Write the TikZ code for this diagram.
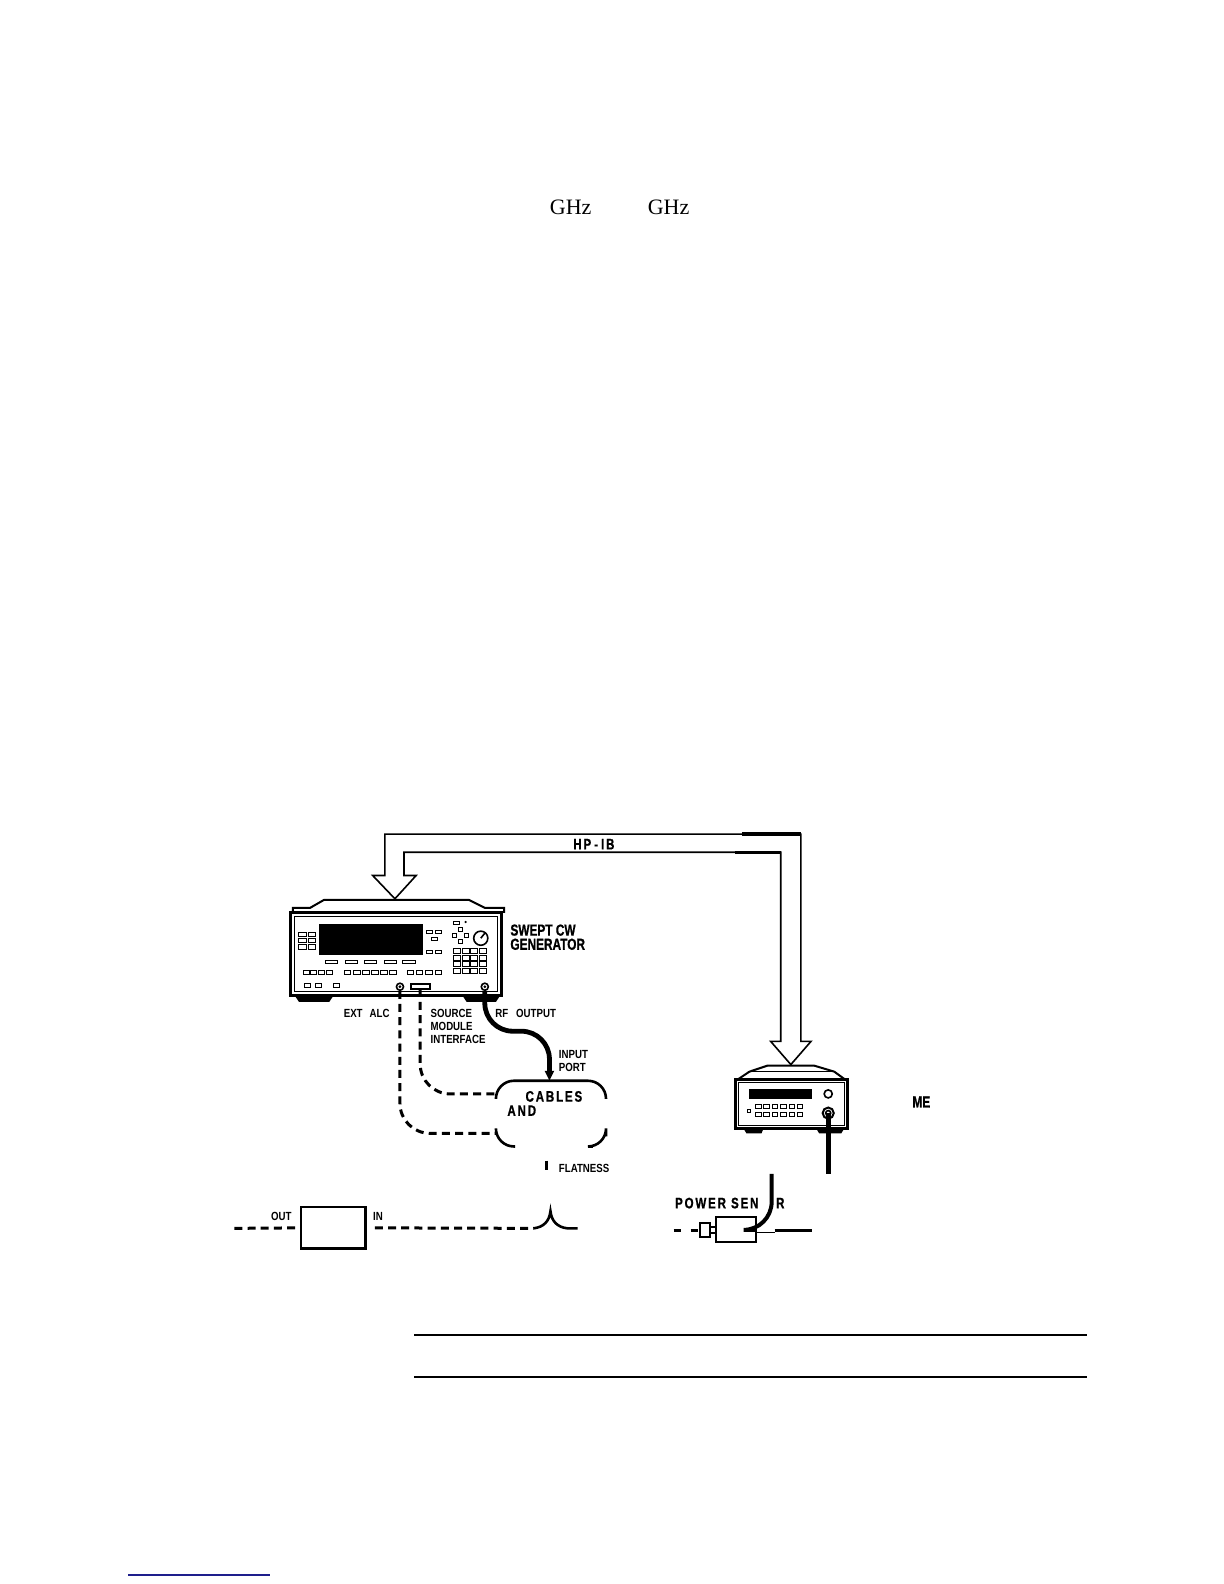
\documentclass[tikz,border=0pt]{standalone}
\usepackage{fontspec}
\setmainfont{Liberation Serif}
\newfontfamily\plotfont[FakeStretch=0.82]{Liberation Sans}
\newfontfamily\plotbig[FakeStretch=0.74,FakeBold=0.8]{Liberation Sans}
\newfontfamily\plotwide[FakeStretch=0.76,FakeBold=0.8,LetterSpace=12]{Liberation Sans}
\usetikzlibrary{arrows.meta}
\definecolor{linkblue}{RGB}{30,30,140}

\tikzstyle{big}=[font=\plotbig\bfseries\fontsize{8}{9}\selectfont,inner sep=0pt,anchor=west]
\tikzstyle{bigw}=[font=\plotwide\bfseries\fontsize{7.6}{8.5}\selectfont,inner sep=0pt,anchor=west]
\tikzstyle{small}=[font=\plotfont\bfseries\fontsize{5.9}{6.5}\selectfont,inner sep=0pt,anchor=west]
\tikzstyle{key}=[draw,line width=0.5pt]
\tikzstyle{panel}=[draw,line width=1.5pt]
\tikzstyle{cable}=[line width=2.4pt]
\tikzstyle{dashcable}=[line width=1.5pt,dash pattern=on 4pt off 2.6pt]
\tikzstyle{boxline}=[line width=1.3pt]
\tikzstyle{bus}=[line width=0.8pt,line join=miter]
\tikzstyle{attbox}=[draw,line width=1.2pt,minimum width=32.3pt,minimum height=20.7pt,inner sep=0pt]
\tikzstyle{sensbox}=[draw,line width=1pt,minimum width=19.7pt,minimum height=12.6pt,inner sep=0pt]

\begin{document}
\begin{tikzpicture}[x=0.505pt,y=-0.5055pt]
\useasboundingbox (0pt,0pt) rectangle (612pt,-792pt);
%\draw[help lines,step=50] (0,0) grid (1212,1567);
\node[font=\fontsize{11}{13}\selectfont,inner sep=0pt] (ghza) at (565,205) {GHz};
\node[font=\fontsize{11}{13}\selectfont,inner sep=0pt] (ghzb) at (662,205) {GHz};

% swept cw generator
\draw[line width=1pt] (290,903) -- (290,898) -- (307,898) -- (321,890) -- (464,890) -- (480,898) -- (499,898) -- (499,903);
\fill (292,985) -- (330,985) -- (326,991) -- (296,991) -- cycle;
\fill (458,985) -- (495,985) -- (491,991) -- (462,991) -- cycle;
\draw[panel] (288,903) rectangle (497,985);
\draw[line width=0.5pt] (292,907) rectangle (493,981);
\fill (316,914) rectangle (419,945);
\foreach \y in {922.5,928.5,934.5} \foreach \x in {296,305} \draw[key] (\x,\y) rectangle +(7.5,4.2);
\foreach \x in {322,342,361,381,399} \draw[key] (\x,950.5) rectangle +(12,2.5);
\foreach \i in {0,...,3} \draw[key] ({300+7.6*\i},959.5) rectangle +(6,4.5);
\foreach \i in {0,...,5} \draw[key] ({341+9*\i},959.5) rectangle +(6.5,4.5);
\foreach \i in {0,...,3} \draw[key] ({403+9.3*\i},959.5) rectangle +(6.5,4.5);
\foreach \x in {301,312,330} \draw[key] (\x,973) rectangle +(6.5,4);
\foreach \x/\y in {422/920,431/920,427/927,422/940,431/940} \draw[key] (\x,\y) rectangle +(6,3.5);
\draw[key] (449,911) rectangle +(6,3);
\fill (461,912) circle (1.2);
\foreach \dx/\dy in {0/-6,-6/0,6/0,0/6} \draw[key] ({454+\dx},{923+\dy}) rectangle +(4,4);
\draw[line width=0.8pt] (476,928) circle (7);
\draw[line width=0.8pt] (476,928) -- +(4,-5);
\foreach \i in {0,...,3} \foreach \j in {0,...,3} \draw[key] ({449+8.5*\i},{938+6.7*\j}) rectangle +(7,5);
\draw[line width=0.8pt] (396,976) circle (3.5);
\fill (396,976) circle (1.5);
\draw[line width=0.8pt] (407,973) rectangle (426,978);
\draw[line width=0.8pt] (480,976) circle (3.5);
\fill (480,976) circle (1.5);
\node[big] (swept) at (505,920) {SWEPT CW};
\node[big] (generator) at (505,934) {GENERATOR};
\node[small] (extalc) at (340,1002) {EXT\hspace{3.5pt}ALC};
\node[small] (source) at (426,1002) {SOURCE};
\node[small] (module) at (426,1015) {MODULE};
\node[small] (interface) at (426,1028) {INTERFACE};
\node[small] (rfout) at (490,1002) {RF\hspace{4pt}OUTPUT};

% cables and adapters
\coordinate (alc) at (396,980);
\coordinate (smi) at (416,978);
\coordinate (rf) at (480,980);
\coordinate (boxa) at (491,1121);
\coordinate (boxb) at (491,1082);
\coordinate (boxin) at (544,1069);
\draw[dashcable,rounded corners=15] (alc) |- (boxa);
\draw[dashcable,rounded corners=15] (smi) |- (boxb);
\draw[cable,rounded corners=14,-{Triangle[length=5pt,width=4.5pt]}] (rf) -- (480,1020) -- (544,1020) -- (boxin);
\draw[boxline,rounded corners=9] (491,1086) |- (600,1069) -- (600,1086);
\draw[boxline,rounded corners=9] (491,1117) |- (510,1134);
\draw[boxline,rounded corners=9] (600,1124) |- (587,1134);
\node[small] (input) at (553,1043) {INPUT};
\node[small] (port) at (553,1056) {PORT};
\node[bigw] (cables) at (520,1084.5) {CABLES};
\node[bigw] (and) at (502,1098.5) {AND};
\draw[line width=1.2pt] (541,1148) -- (541,1157);
\node[small] (flatness) at (553,1156) {FLATNESS};

% attenuator chain
\coordinate (atl) at (232,1215);
\node[attbox] (att) at (330,1214.5) {};
\coordinate (brace) at (528,1215);
\coordinate (bracer) at (572,1215);
\draw[dashcable] (atl) -- (att.west);
\draw[dashcable] ([xshift=4pt]att.east) -- (brace);
\draw[boxline] (brace) .. controls (538,1214) and (544,1208) .. (545,1198) .. controls (546,1208) and (552,1214) .. (562,1215) -- (bracer);
\node[small,anchor=east] (out) at (289,1203) {OUT};
\node[small] (in) at (369,1203) {IN};

% power meter
\draw[line width=1pt] (730,1068) -- (742,1060) -- (760,1054) -- (806,1054) -- (826,1060) -- (837,1068);
\draw[line width=0.6pt] (742,1060) -- (826,1060);
\fill (736,1116) -- (756,1116) -- (754,1121) -- (739,1121) -- cycle;
\fill (808,1116) -- (836,1116) -- (833,1121) -- (811,1121) -- cycle;
\draw[panel] (728,1068) rectangle (839,1116);
\draw[line width=0.5pt] (731,1071) rectangle (836,1113);
\fill (742,1077) rectangle (804,1087);
\foreach \i in {0,...,5} {
  \draw[key] ({748+8.3*\i},1092) rectangle +(5.5,4);
  \draw[key] ({748+8.3*\i},1100) rectangle +(5.5,4);
}
\draw[key] (740,1097) rectangle +(3,3);
\draw[line width=0.8pt] (820,1082) circle (4);
\draw[line width=1pt] (820,1101) circle (5.5);
\draw[line width=0.8pt] (820,1101) circle (2.5);
\node[big] (me) at (903,1090) {ME};

% power sensor
\coordinate (mcon) at (820,1101);
\coordinate (mend) at (820,1161);
\coordinate (scab) at (764,1161);
\node[sensbox] (sens) at (728.5,1216.5) {};
\draw[line width=1pt] (693,1210) rectangle (703,1224);
\draw[line width=1pt] (703,1214) rectangle (709,1220);
\draw[cable] (mcon) -- (mend);
\draw[line width=2pt,rounded corners=14] (scab) |- (sens.east);
\coordinate (sline) at (767,1217);
\coordinate (slinee) at (804,1217);
\draw[line width=1.5pt] (sline) -- (slinee);
\draw[line width=0.4pt] (748,1219) -- (767,1219);
\coordinate (sdash) at (667,1217);
\draw[line width=1.5pt,dash pattern=on 3.5pt off 5pt] (sdash) -- (693,1217);
\node[bigw] (powersen) at (668,1190) {POWER SEN};
\node[bigw] (powerr) at (768,1190) {R};

% hp-ib
\coordinate (gentip) at (391,889);
\coordinate (mettip) at (783,1053);
\draw[bus] (gentip) -- (369,866) -- (381,866) |- (793,825) -- (793,1030) -- (803,1030) -- (mettip) -- (763,1030) -- (773,1030) |- (400,843) -- (400,866) -- (412,866) -- cycle;
\draw[line width=1.6pt] (735,825) -- (793,825);
\draw[line width=1.6pt] (728,843) -- (773,843);
\node[bigw,anchor=center] (hpib) at (588,835) {HP\kern1.5pt-\kern1.5pt IB};

\draw[line width=1pt] (410,1320) -- (1076,1320);
\draw[line width=1pt] (410,1362) -- (1076,1362);
\draw[linkblue,line width=1pt] (127,1558) -- (267,1558);
\end{tikzpicture}
\end{document}
